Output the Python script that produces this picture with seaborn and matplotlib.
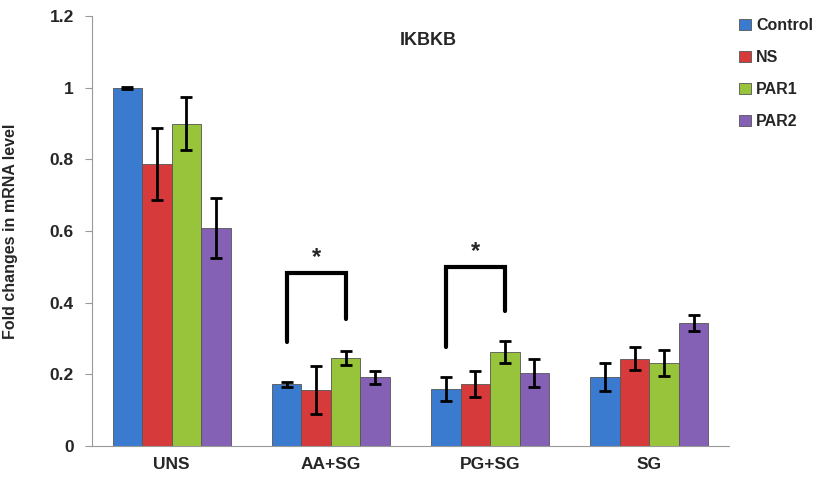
import matplotlib
matplotlib.use("Agg")
import matplotlib.pyplot as plt
import seaborn as sns
import pandas as pd
import numpy as np

categories = ["UNS", "AA+SG", "PG+SG", "SG"]
groups = ["Control", "NS", "PAR1", "PAR2"]
control = [1.0, 0.173, 0.159, 0.193]
ns = [0.787, 0.156, 0.173, 0.243]
par1 = [0.90, 0.245, 0.262, 0.232]
par2 = [0.608, 0.192, 0.204, 0.343]
control_err = [0.003, 0.007, 0.034, 0.039]
ns_err = [0.100, 0.068, 0.036, 0.032]
par1_err = [0.073, 0.020, 0.030, 0.036]
par2_err = [0.083, 0.018, 0.040, 0.022]

colors = ["#3a7bd0", "#d63a3a", "#98c43c", "#8461b4"]

rows = []
for g, vals, errs in zip(groups, [control, ns, par1, par2],
                         [control_err, ns_err, par1_err, par2_err]):
    for c, v, e in zip(categories, vals, errs):
        rows.append({"cat": c, "grp": g, "val": v, "err": e})
df = pd.DataFrame(rows)

sns.set_style("white")
plt.rcParams["font.family"] = ["Liberation Sans", "DejaVu Sans"]
plt.rcParams["font.weight"] = "bold"

fig = plt.figure(figsize=(8.17, 4.78), dpi=100)
ax = fig.add_axes([92 / 817, 1 - 446 / 478, (729 - 92) / 817, (446 - 16) / 478])

sns.barplot(data=df, x="cat", y="val", hue="grp", order=categories,
            hue_order=groups, palette=colors, width=0.74, ax=ax,
            errorbar=None, edgecolor="#555555", linewidth=0.6, saturation=1)

# error bars from patch positions
bars = [p for p in ax.patches if p.get_height() > 0]
for i, g in enumerate(groups):
    sub = df[df.grp == g].set_index("cat").loc[categories]
    for j, c in enumerate(categories):
        p = bars[i * len(categories) + j]
        xc = p.get_x() + p.get_width() / 2
        ax.errorbar(xc, sub.loc[c, "val"], yerr=sub.loc[c, "err"], fmt="none",
                    ecolor="black", elinewidth=2, capsize=4, capthick=2, zorder=5)

# significance brackets
def bracket(cat_idx, left_y, top_y, right_y):
    pl = bars[0 * 4 + cat_idx]
    pr = bars[2 * 4 + cat_idx]
    xl = pl.get_x() + pl.get_width() / 2
    xr = pr.get_x() + pr.get_width() / 2
    ax.plot([xl, xl, xr, xr], [left_y, top_y, top_y, right_y], color="black",
            lw=3, solid_joinstyle="miter", zorder=6)
    ax.text((xl + xr) / 2, top_y + 0.012, "*", ha="center", va="bottom",
            fontsize=17, fontweight="bold")

bracket(1, 0.29, 0.483, 0.355)
bracket(2, 0.277, 0.50, 0.377)

ax.set_ylim(0, 1.2)
ax.set_xlim(-0.5, 3.5)
ax.set_yticks(np.arange(0, 1.21, 0.2))
ax.set_yticklabels(["0", "0.2", "0.4", "0.6", "0.8", "1", "1.2"])
ax.set_xlabel("")
ax.set_ylabel("Fold changes in mRNA level", fontsize=11.5, fontweight="bold")
ax.yaxis.set_label_coords(-(92 - 18) / 637, 0.5)
ax.tick_params(axis="both", labelsize=12.5)
for lab in ax.get_xticklabels() + ax.get_yticklabels():
    lab.set_fontweight("bold")

ax.set_xticks([-0.5, 0.5, 1.5, 2.5, 3.5], minor=True)
ax.tick_params(axis="x", which="major", length=0, pad=8)
ax.tick_params(axis="x", which="minor", length=5, color="#999999", direction="out")
ax.tick_params(axis="y", length=5, color="#999999", direction="out", left=True, pad=8)

sns.despine(ax=ax)
for s in ["left", "bottom"]:
    ax.spines[s].set_color("#999999")
    ax.spines[s].set_linewidth(0.8)

ax.text((428 - 92) / 637, (446 - 40) / 430, "IKBKB", transform=ax.transAxes,
        ha="center", va="center", fontsize=13, fontweight="bold")

leg = ax.legend(loc="upper left", bbox_to_anchor=(733 / 817, 1 - 12 / 478),
                bbox_transform=fig.transFigure, frameon=False, fontsize=11.5,
                handlelength=0.7, handleheight=0.7, labelspacing=1.05,
                handletextpad=0.35, borderaxespad=0)
for t in leg.get_texts():
    t.set_fontweight("bold")

fig.savefig("out.png", dpi=100)
